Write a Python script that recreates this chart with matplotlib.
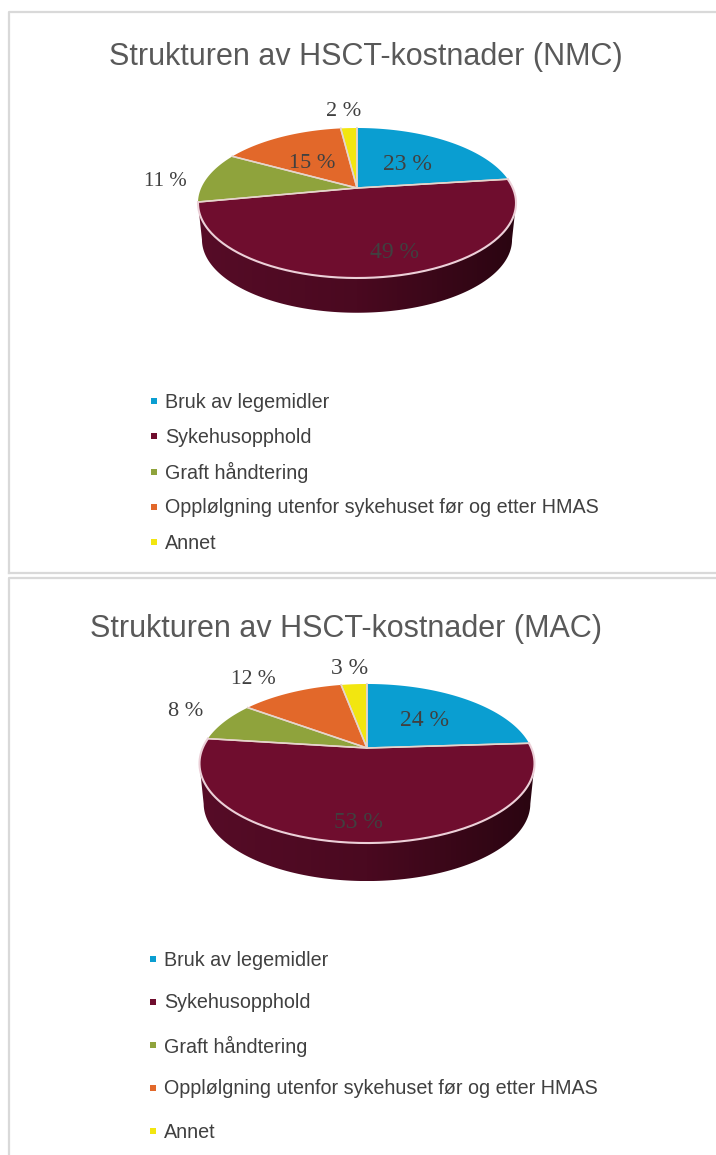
import numpy as np
import matplotlib
matplotlib.use('Agg')
import matplotlib.pyplot as plt
from matplotlib.colors import LinearSegmentedColormap
from matplotlib.patches import Polygon

titles = ['Strukturen av HSCT-kostnader (NMC)', 'Strukturen av HSCT-kostnader (MAC)']
categories = ['Bruk av legemidler', 'Sykehusopphold', 'Graft håndtering',
              'Opplølgning utenfor sykehuset før og etter HMAS', 'Annet']
values_nmc = [23, 49, 11, 15, 2]
values_mac = [24, 53, 8, 12, 3]
colors = ['#0a9ed1', '#6f0d2e', '#8fa33c', '#e2682a', '#f2e610']

SANS = ['Liberation Sans', 'DejaVu Sans']
SERIF = ['Liberation Serif', 'DejaVu Serif']
GREY = '#404040'

fig = plt.figure(figsize=(7.16, 11.55), dpi=100)
ax = fig.add_axes([0, 0, 1, 1])
wall_cmap = LinearSegmentedColormap.from_list('wall', ['#560c27', '#4a0920', '#2a0511'])


# flat circle -> tilted ellipse, the apex is not in the middle of the ellipse
def project(t, cx, cy, b, a, k, scale=1.0, drop=0.0):
    w = 1 + k * np.sin(t)
    return cx + scale * b * np.cos(t) / w, cy + drop - scale * a * np.sin(t) / w


def pie3d(values, cx, cy, b, a, k, drop):
    args = (cx, cy, b, a, k)
    # side wall, only the part you can see
    t = np.radians(np.linspace(-168.5, -11.5, 200))
    x1, y1 = project(t, *args)
    x2, y2 = project(t[::-1], *args, scale=0.975, drop=drop)
    wall = Polygon(np.column_stack([np.r_[x1, x2], np.r_[y1, y2]]), fc='none', ec='none')
    ax.add_patch(wall)
    img = ax.imshow(np.linspace(0, 1, 256).reshape(1, -1), cmap=wall_cmap, aspect='auto',
                    extent=[x1.min(), x1.max(), y2.max(), y1.min()], zorder=1)
    img.set_clip_path(wall)

    # slices run clockwise from 12 o'clock
    edges = 90 - 3.6 * np.r_[0, np.cumsum(values)]
    for i in range(len(values)):
        t = np.radians(np.linspace(edges[i], edges[i + 1], 120))
        x, y = project(t, *args)
        ax.fill(np.r_[cx, x], np.r_[cy, y], color=colors[i], lw=0, zorder=2)
        ax.plot(np.r_[x[0], cx, x[-1]], np.r_[y[0], cy, y[-1]], color='#e6d5cc', lw=1.1, zorder=3)
    # light rim along the front
    t = np.radians(np.linspace(edges[1], edges[2], 200))
    x, y = project(t, *args)
    ax.plot(x, y, color='#ecd0d8', lw=1.5, zorder=3)


def frame(y0, y1=None):
    ax.plot([716, 9, 9], [y0, y0, y1], color='#d9d9d9', lw=1.6, zorder=0)
    if y1 < 1155:
        ax.plot([9, 716], [y1, y1], color='#d9d9d9', lw=1.6, zorder=0)


frame(12, 573)
frame(578, 1156)

ax.text(366, 57, titles[0], family=SANS, fontsize=22, color='#595959', ha='center', va='center')
ax.text(346, 629, titles[1], family=SANS, fontsize=22, color='#595959', ha='center', va='center')

pie3d(values_nmc, 357, 188, 155.8, 72, 0.2, 37)
pie3d(values_mac, 367, 748, 164.3, 76.5, 0.195, 40.4)

# data labels, order as in the value lists
pos_nmc = [(407, 165), (395, 253), (165, 181), (312, 163), (344, 112)]
pos_mac = [(425, 721), (358, 822), (186, 712), (253, 679), (350, 669)]
size_nmc = [17, 17, 15, 16, 16]
size_mac = [17, 17, 16, 15.5, 17]
for vals, pos, sizes in [(values_nmc, pos_nmc, size_nmc), (values_mac, pos_mac, size_mac)]:
    for v, p, s in zip(vals, pos, sizes):
        ax.text(p[0], p[1], f'{v} %', family=SERIF, fontsize=s, color=GREY,
                ha='center', va='center', zorder=5)

# legends
for start, step, mx in [(401, 35.3, 154), (959, 43, 153)]:
    for i, c in enumerate(categories):
        y = start + i * step
        ax.scatter([mx], [y], s=24, marker='s', color=colors[i], lw=0, zorder=4)
        ax.text(mx + 11, y + 1, c, family=SANS, fontsize=14.2, color=GREY, ha='left', va='center')

ax.set_xlim(0, 716)
ax.set_ylim(1155, 0)
ax.axis('off')
fig.savefig('out.png', dpi=100)
